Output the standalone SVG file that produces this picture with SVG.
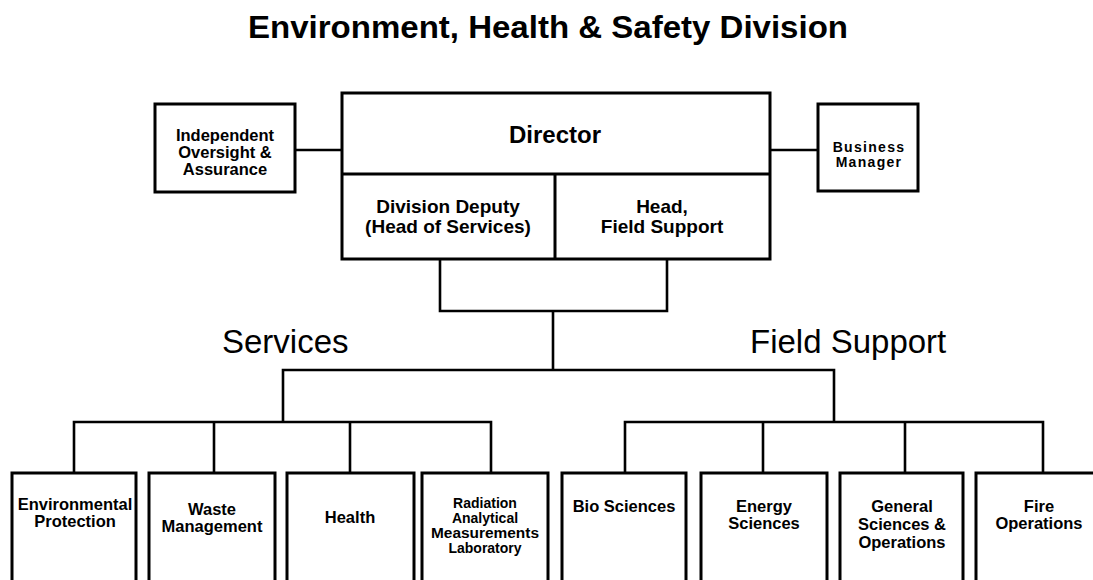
<svg xmlns="http://www.w3.org/2000/svg" width="1093" height="580" viewBox="0 0 1093 580">
  <style>
    .box { fill: #fff; stroke: #000; stroke-width: 3; }
    .wire { fill: none; stroke: #000; stroke-width: 2.6; }
    .t { font-family: "Liberation Sans", Arial, sans-serif; font-weight: bold; fill: #000; text-anchor: middle; }
    .big { font-size: 24px; }
    .mid { font-size: 19px; }
    .sm { font-size: 16.5px; }
    .xs { font-size: 14px; }
    .head { font-family: "Liberation Sans", Arial, sans-serif; font-size: 33px; fill: #000; }
  </style>
  <rect width="1093" height="580" fill="#fff"/>

  <text class="t" x="548" y="38" font-size="31" textLength="600" lengthAdjust="spacingAndGlyphs">Environment, Health &amp; Safety Division</text>

  <!-- connectors -->
  <g id="connectors">
    <path class="wire" d="M295 150 H342"/>
    <path class="wire" d="M770 150 H818"/>
    <path class="wire" d="M440 259 V311 H667 V259"/>
    <path class="wire" d="M553 311 V370"/>
    <path class="wire" d="M283 422 V370 H834 V422"/>
    <path class="wire" d="M74 473 V422 H491 V473"/>
    <path class="wire" d="M214 422 V473"/>
    <path class="wire" d="M350 422 V473"/>
    <path class="wire" d="M625 473 V422 H1043 V473"/>
    <path class="wire" d="M763 422 V473"/>
    <path class="wire" d="M905 422 V473"/>
  </g>

  <!-- top management block -->
  <g id="director">
    <rect class="box" x="342" y="93" width="428" height="166"/>
    <path class="wire" d="M342 174 H770 M555 174 V259" style="stroke-width:3"/>
    <text class="t big" x="555" y="143">Director</text>
  </g>
  <g id="deputy">
    <text class="t mid" x="448" y="213">Division Deputy</text>
    <text class="t mid" x="448" y="233">(Head of Services)</text>
  </g>
  <g id="head-field">
    <text class="t mid" x="662" y="213">Head,</text>
    <text class="t mid" x="662" y="233">Field Support</text>
  </g>
  <g id="oversight">
    <rect class="box" x="155" y="104" width="140" height="88"/>
    <text class="t sm" x="225" y="141">Independent</text>
    <text class="t sm" x="225" y="158">Oversight &amp;</text>
    <text class="t sm" x="225" y="175">Assurance</text>
  </g>
  <g id="business">
    <rect class="box" x="818" y="104" width="100" height="87"/>
    <text class="t" x="869" y="152" font-size="14" letter-spacing="1.3">Business</text>
    <text class="t" x="869" y="167" font-size="14" letter-spacing="1.3">Manager</text>
  </g>

  <!-- branch labels -->
  <text class="head" x="222" y="353">Services</text>
  <text class="head" x="750" y="353">Field Support</text>

  <!-- services groups -->
  <g id="env-protection">
    <rect class="box" x="12" y="473" width="124" height="130"/>
    <text class="t sm" x="75" y="510">Environmental</text>
    <text class="t sm" x="75" y="527">Protection</text>
  </g>
  <g id="waste">
    <rect class="box" x="149" y="473" width="126" height="130"/>
    <text class="t sm" x="212" y="515">Waste</text>
    <text class="t sm" x="212" y="532">Management</text>
  </g>
  <g id="health">
    <rect class="box" x="287" y="473" width="127" height="130"/>
    <text class="t sm" x="350" y="523">Health</text>
  </g>
  <g id="ramlab">
    <rect class="box" x="422" y="473" width="126" height="130"/>
    <text class="t xs" x="485" y="508">Radiation</text>
    <text class="t xs" x="485" y="523">Analytical</text>
    <text class="t xs" x="485" y="538" textLength="108" lengthAdjust="spacingAndGlyphs">Measurements</text>
    <text class="t xs" x="485" y="553">Laboratory</text>
  </g>

  <!-- field support groups -->
  <g id="bio">
    <rect class="box" x="562" y="473" width="124" height="130"/>
    <text class="t sm" x="624" y="512">Bio Sciences</text>
  </g>
  <g id="energy">
    <rect class="box" x="701" y="473" width="126" height="130"/>
    <text class="t sm" x="764" y="512">Energy</text>
    <text class="t sm" x="764" y="529">Sciences</text>
  </g>
  <g id="general">
    <rect class="box" x="840" y="473" width="123" height="130"/>
    <text class="t sm" x="902" y="512">General</text>
    <text class="t sm" x="902" y="530">Sciences &amp;</text>
    <text class="t sm" x="902" y="548">Operations</text>
  </g>
  <g id="fire">
    <rect class="box" x="976" y="473" width="130" height="130"/>
    <text class="t sm" x="1039" y="512">Fire</text>
    <text class="t sm" x="1039" y="529">Operations</text>
  </g>
</svg>
